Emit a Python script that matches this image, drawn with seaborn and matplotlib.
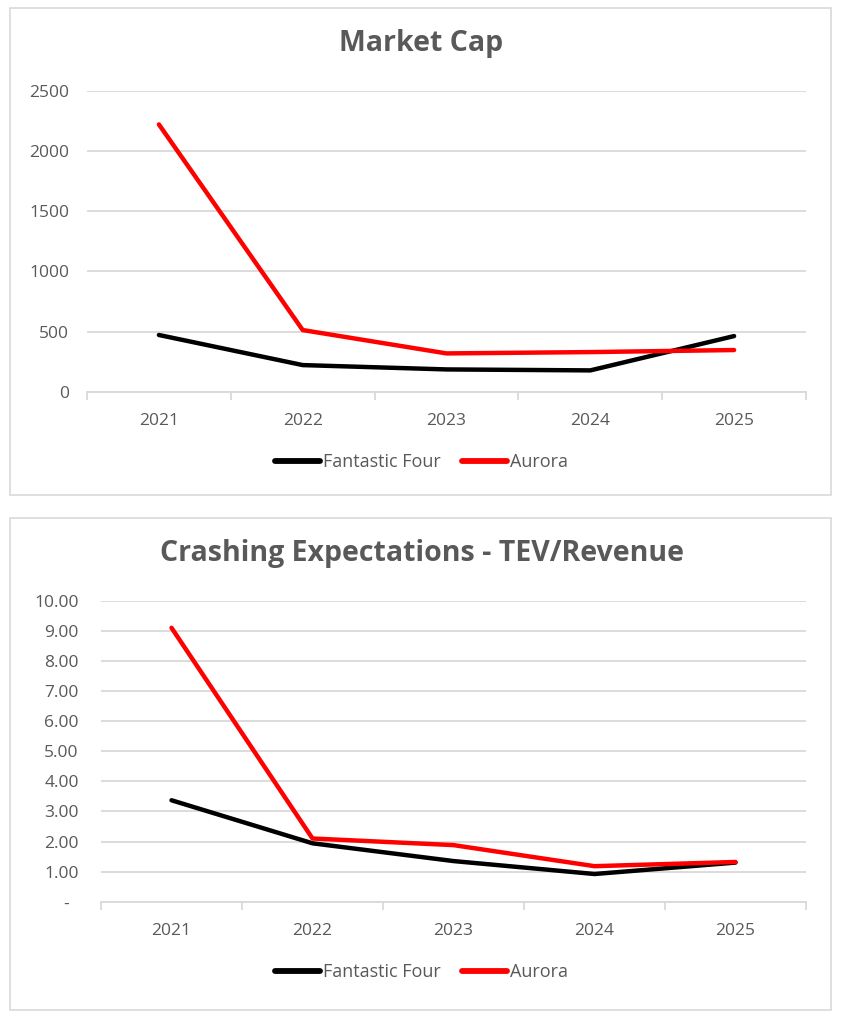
import numpy as np
import pandas as pd
import matplotlib
matplotlib.use('Agg')
import matplotlib.pyplot as plt
import seaborn as sns
from matplotlib.patches import Rectangle
from matplotlib.ticker import FuncFormatter

# Data
years = ['2021', '2022', '2023', '2024', '2025']
series = ['Fantastic Four', 'Aurora']
mcap_ff = [471, 221, 185, 177, 462]
mcap_aurora = [2220, 512, 318, 329, 346]
tev_ff = [3.37, 1.94, 1.35, 0.92, 1.30]
tev_aurora = [9.10, 2.10, 1.88, 1.18, 1.32]

palette = {'Fantastic Four': '#000000', 'Aurora': '#FF0000'}
text_col = '#595959'
grid_col = '#D9D9D9'

sns.set_theme(style='white')
plt.rcParams['font.family'] = ['Open Sans', 'DejaVu Sans']

W, H = 843, 1017
fig = plt.figure(figsize=(W / 100, H / 100), dpi=100)


def frac(x0, y0, x1, y1):
    return [x0 / W, 1 - y1 / H, (x1 - x0) / W, (y1 - y0) / H]


# panel borders
for (x0, y0, x1, y1) in [(10, 8, 831, 495), (10, 518, 831, 1010)]:
    fig.patches.append(Rectangle((x0 / W, 1 - y1 / H), (x1 - x0) / W, (y1 - y0) / H,
                                 transform=fig.transFigure, fill=False,
                                 edgecolor=grid_col, linewidth=1.2))


def draw(ax, ff, aurora, ymax, ystep, fmt, ypad, title, title_y, legend_y):
    df = pd.DataFrame({
        'Year': years * 2,
        'Value': ff + aurora,
        'Series': [series[0]] * len(years) + [series[1]] * len(years),
    })
    sns.lineplot(data=df, x='Year', y='Value', hue='Series', palette=palette,
                 linewidth=3.2, ax=ax, legend=False, sort=False)
    ax.set_xlim(-0.5, len(years) - 0.5)
    ax.set_ylim(0, ymax)
    ax.set_yticks(np.arange(0, ymax + ystep / 2, ystep))
    ax.yaxis.set_major_formatter(FuncFormatter(fmt))
    ax.grid(axis='y', color=grid_col, linewidth=1.3)
    ax.set_axisbelow(True)
    for s in ['top', 'right', 'left']:
        ax.spines[s].set_visible(False)
    ax.spines['bottom'].set_color(grid_col)
    ax.spines['bottom'].set_linewidth(1.3)
    ax.set_xlabel('')
    ax.set_ylabel('')
    ax.set_xticks(np.arange(-0.5, len(years), 1.0), minor=True)
    ax.tick_params(axis='x', which='major', length=0, pad=15, labelsize=12.5, labelcolor=text_col)
    ax.tick_params(axis='x', which='minor', length=6, width=1.3, color=grid_col, bottom=True)
    ax.tick_params(axis='y', length=0, pad=ypad, labelsize=12.5, labelcolor=text_col)
    fig.text(0.5, 1 - title_y / H, title, ha='center', va='center',
             fontsize=20.5, fontweight='bold', color=text_col)
    handles = [plt.Line2D([], [], color=palette[s], linewidth=4.2, solid_capstyle='round')
               for s in series]
    fig.legend(handles, series, loc='center', bbox_to_anchor=(0.5, 1 - legend_y / H),
               ncol=2, frameon=False, fontsize=13, labelcolor=text_col,
               handlelength=2.5, handletextpad=0.15, columnspacing=1.2)


ax1 = fig.add_axes(frac(87, 90.7, 806, 391.7))
draw(ax1, mcap_ff, mcap_aurora, 2500, 500, lambda v, p: f'{v:.0f}', 13,
     'Market Cap', 44, 462)

ax2 = fig.add_axes(frac(101, 600.7, 806, 901.7))
draw(ax2, tev_ff, tev_aurora, 10, 1, lambda v, p: '-  ' if v == 0 else f'{v:.2f}', 16,
     'Crashing Expectations - TEV/Revenue', 554, 972)

fig.savefig('out.png', dpi=100)
